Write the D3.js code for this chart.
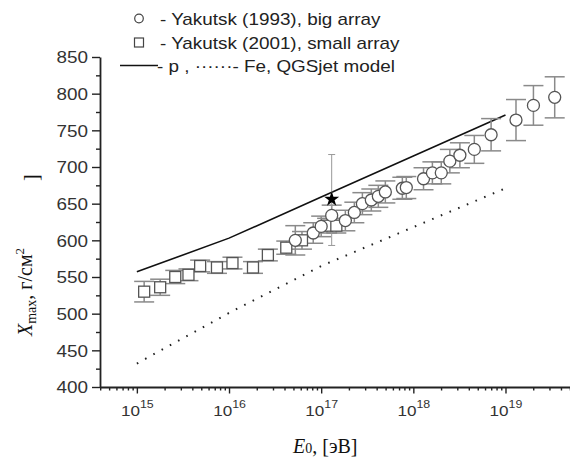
<!DOCTYPE html>
<html><head><meta charset="utf-8">
<script src="https://cdn.jsdelivr.net/npm/d3@7"></script>
<style>
body{margin:0;background:#fff;}
svg{display:block;}
</style></head>
<body>
<svg id="c" width="570" height="459"></svg>
<script>
// ---- data ----
const smallE   = [1.20e15,1.79e15,2.61e15,3.63e15,4.86e15,7.40e15,1.09e16,1.82e16,2.64e16,4.18e16,6.19e16,1.16e17,1.46e17];
const smallX   = [530,536,550,553,565,563,569,563,580,590,600,620,620];
const smallErr = [14,11,9,8,8,8,8,8,8,9,12,10,10];

const bigE   = [5.24e16,8.20e16,1.00e17,1.30e17,1.83e17,2.29e17,2.80e17,3.50e17,4.17e17,4.97e17,7.60e17,8.39e17,1.29e18,1.61e18,2.01e18,2.49e18,3.20e18,4.59e18,6.98e18,1.30e19,2.01e19,3.42e19];
const bigX   = [600,610,619,634,627,638,650,655,660,666,671,672,684,692,692,708,716,724,744,764,784,795];
const bigErr = [20,14,14,14,14,14,15,15,15,15,15,15,15,15,15,16,17,19,22,28,27,28];

const starE = [1.30e17], starX = [656], starLo = [593], starHi = [717];

const modelE  = [1e15,1e16,1e17,1e18,1e19];
const protonX = [557,603,659,715,771];
const ironX   = [432,501,565,618,671];

const yTicks = [400,450,500,550,600,650,700,750,800,850];
const xTickExp = [15,16,17,18,19];
const legendLabels = ["- Yakutsk (1993), big array","- Yakutsk (2001), small array","- p , \u00b7\u00b7\u00b7\u00b7\u00b7\u00b7- Fe, QGSjet model"];

// ---- chart ----
const svg = d3.select("#c");
const x = d3.scaleLog().domain([Math.pow(10,14.6), Math.pow(10,19.7)]).range([100,570]);
const y = d3.scaleLinear().domain([400,850]).range([387,57]);
const SX = 1.18;
const axisCol = "#222", labCol = "#333";

// y axis
const yMinor = d3.range(400,851,25).filter(v=>v%50!==0);
const gy = svg.append("g").attr("transform","translate(100,0)");
gy.call(d3.axisLeft(y).tickValues(yMinor).tickSize(4).tickFormat(""));
gy.call(g=>g.selectAll(".domain").remove());
const gy2 = svg.append("g").attr("transform","translate(100,0)");
gy2.call(d3.axisLeft(y).tickValues(yTicks).tickSize(8).tickSizeOuter(0).tickPadding(4));
[gy,gy2].forEach(g=>{g.selectAll("line").attr("stroke",axisCol).attr("stroke-width",1.4);});
gy2.select(".domain").attr("stroke",axisCol).attr("stroke-width",1.8);
gy2.selectAll(".tick text").attr("font-family","Liberation Sans, Arial, sans-serif")
  .attr("font-size",16).attr("fill",labCol).attr("x",0).attr("dy","0.36em")
  .attr("transform","translate(-12,0) scale("+SX+",1)");

// x axis
const minor = [];
for(let e=14;e<=19;e++) for(let k=2;k<=9;k++){const v=k*Math.pow(10,e); if(v>=x.domain()[0]&&v<=x.domain()[1]) minor.push(v);}
const gx = svg.append("g").attr("transform","translate(0,387)");
gx.call(d3.axisBottom(x).tickValues(minor).tickSize(3.5).tickFormat(""));
gx.call(g=>g.selectAll(".domain").remove());
const gx2 = svg.append("g").attr("transform","translate(0,387)");
gx2.call(d3.axisBottom(x).tickValues(xTickExp.map(e=>Math.pow(10,e))).tickSize(6.5).tickSizeOuter(0).tickFormat(""));
[gx,gx2].forEach(g=>{g.selectAll("line").attr("stroke",axisCol).attr("stroke-width",1.4);});
gx2.select(".domain").attr("stroke",axisCol).attr("stroke-width",1.8);
gx2.selectAll(".tick").each(function(d,i){
  const t = d3.select(this).append("text").attr("transform","translate(0,29) scale("+SX+",1)")
    .attr("text-anchor","middle").attr("fill",labCol).attr("font-family","Liberation Sans, Arial, sans-serif").attr("font-size",14.5);
  t.append("tspan").text("10");
  t.append("tspan").attr("font-size",10.5).attr("dy",-8).text(xTickExp[i]);
});

// model lines
const line = d3.line().x((d,i)=>x(modelE[i])).y(d=>y(d));
svg.append("path").datum(protonX).attr("d",line).attr("fill","none").attr("stroke","#111").attr("stroke-width",1.6);
svg.append("path").datum(ironX).attr("d",line).attr("fill","none").attr("stroke","#222").attr("stroke-width",2)
  .attr("stroke-dasharray","1.6,7.8").attr("stroke-linecap","butt");

// error bars
const ebCol = "#8a8a8a", capW = 10;
function errbars(E, V, Err){
  const g = svg.append("g").attr("stroke",ebCol).attr("stroke-width",1.5);
  E.forEach((e,i)=>{
    const cx = x(e), t = y(V[i]+Err[i]), b = y(V[i]-Err[i]);
    g.append("line").attr("x1",cx).attr("x2",cx).attr("y1",t).attr("y2",b);
    g.append("line").attr("x1",cx-capW).attr("x2",cx+capW).attr("y1",t).attr("y2",t);
    g.append("line").attr("x1",cx-capW).attr("x2",cx+capW).attr("y1",b).attr("y2",b);
  });
}
errbars(smallE, smallX, smallErr);
errbars(bigE, bigX, bigErr);

// star error bar
const sg = svg.append("g").attr("stroke","#999").attr("stroke-width",1);
starE.forEach((e,i)=>{
  const cx = x(e);
  sg.append("line").attr("x1",cx).attr("x2",cx).attr("y1",y(starHi[i])).attr("y2",y(starLo[i]));
  sg.append("line").attr("x1",cx-3.5).attr("x2",cx+3.5).attr("y1",y(starHi[i])).attr("y2",y(starHi[i]));
  sg.append("line").attr("x1",cx-3.5).attr("x2",cx+3.5).attr("y1",y(starLo[i])).attr("y2",y(starLo[i]));
});

// markers
svg.append("g").selectAll("rect").data(smallE).join("rect")
  .attr("x",(d)=>x(d)-5.5).attr("y",(d,i)=>y(smallX[i])-5.5).attr("width",11).attr("height",11)
  .attr("fill","#fff").attr("stroke","#555").attr("stroke-width",1.3);
svg.append("g").selectAll("circle").data(bigE).join("circle")
  .attr("cx",d=>x(d)).attr("cy",(d,i)=>y(bigX[i])).attr("r",6)
  .attr("fill","#fff").attr("stroke","#555").attr("stroke-width",1.3);
svg.append("g").selectAll("path").data(starE).join("path")
  .attr("d",d3.symbol().type(d3.symbolStar).size(70))
  .attr("transform",(d,i)=>"translate("+x(d)+","+y(starX[i])+")").attr("fill","#000");

// legend
const lf = "Liberation Sans, Arial, sans-serif";
svg.append("circle").attr("cx",139).attr("cy",18.5).attr("r",4.3).attr("fill","#fff").attr("stroke","#444").attr("stroke-width",1.2);
svg.append("rect").attr("x",134.5).attr("y",38).attr("width",9).attr("height",9).attr("fill","#fff").attr("stroke","#444").attr("stroke-width",1.2);
svg.append("line").attr("x1",120).attr("x2",158).attr("y1",65.5).attr("y2",65.5).attr("stroke","#111").attr("stroke-width",1.5);
[25,49,72].forEach((by,i)=>{
  svg.append("text").attr("transform","translate("+(i==2?157:160)+","+by+") scale("+SX+",1)")
    .attr("font-family",lf).attr("font-size",16).attr("fill","#222").text(legendLabels[i]);
});

// axis titles
const sf = "Liberation Serif, Times New Roman, serif";
const yt = svg.append("text").attr("transform","translate(32,336) rotate(-90)")
  .attr("font-family",sf).attr("font-size",20).attr("fill","#111");
yt.append("tspan").attr("font-style","italic").text("X");
yt.append("tspan").attr("font-size",14).attr("dy",4).text("max");
yt.append("tspan").attr("dy",-4).text(", \u0433/\u0441\u043c");
yt.append("tspan").attr("font-size",13).attr("dy",-8).text("2");
svg.append("text").attr("transform","translate(38,181) rotate(-90)")
  .attr("font-family",sf).attr("font-size",20).attr("fill","#111").text("]");

const xt = svg.append("text").attr("transform","translate(293,453)")
  .attr("font-family",sf).attr("font-size",20).attr("fill","#111");
xt.append("tspan").attr("font-style","italic").text("E");
xt.append("tspan").attr("font-size",14).attr("dy",0).text("0");
xt.append("tspan").text(", [\u044d\u0412]");
</script>
</body></html>
